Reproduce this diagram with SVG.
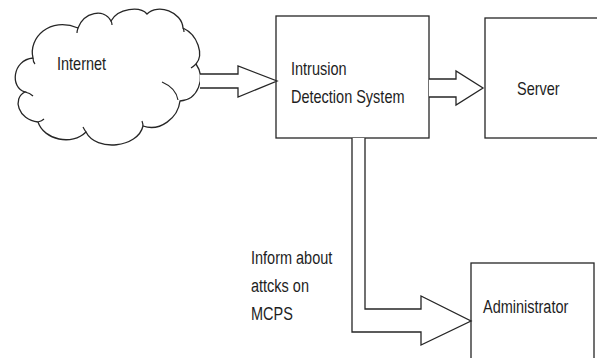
<svg xmlns="http://www.w3.org/2000/svg" width="597" height="358" viewBox="0 0 597 358">
<style>
.ln{fill:#fff;stroke:#262626;stroke-width:1.3;stroke-linejoin:miter}
.hk{fill:none;stroke:#262626;stroke-width:1.2}
.t{font-family:"Liberation Sans",Arial,sans-serif;font-size:14.5px;fill:#1e1e1e}
</style>
<rect width="597" height="358" fill="#fff"/>
<g id="internet">
<path class="ln" d="M25,92 C10,88 12,60 33,58 C28,38 50,16 78,28 C84,12 104,8 111,21 C118,8 140,6 147,14 C158,3 182,12 183,28 C198,35 204,55 196,64 C206,78 198,100 180,101 C178,118 160,132 143,126 C138,148 96,152 86,132 C72,146 44,140 38,122 C18,120 12,98 25,92 Z"/>
<path class="hk" d="M25,92 Q30,93 33,96 M33,58 Q33,62 35,64 M78,28 Q77,31 77,33 M111,21 Q112,23 112,25 M183,28 Q184,30 184,32 M196,64 Q194,66 191,68 M162,82 Q176,88 178,100 M143,126 Q143,124 142,121 M86,132 Q84,129 83,127 M38,122 Q42,121 44,119"/>
<text class="t" transform="translate(57,70) scale(1,1.3)">Internet</text>
</g>
<g id="ids">
<rect class="ln" x="276" y="16" width="153" height="122"/>
<text class="t" transform="translate(291,75) scale(1,1.3)">Intrusion</text>
<text class="t" transform="translate(291,103) scale(1,1.3)">Detection System</text>
</g>
<g id="server">
<rect class="ln" x="485" y="18" width="120" height="120"/>
<text class="t" transform="translate(517,95) scale(1,1.3)">Server</text>
</g>
<g id="administrator">
<rect class="ln" x="471" y="263" width="123" height="110"/>
<text class="t" transform="translate(483,313) scale(1,1.3)">Administrator</text>
</g>
<g id="connectors">
<path class="ln" d="M200,74 H238 V66 L277,81 L238,97 V88 H200"/>
<path class="ln" d="M429,79 H456 V71 L483,88 L456,105 V97 H429"/>
<path class="ln" d="M365,138 V309 H421 V296 L471,321 L421,345 V332 H352 V138"/>
<text class="t" transform="translate(251,264) scale(1,1.3)">Inform about</text>
<text class="t" transform="translate(251,292) scale(1,1.3)">attcks on</text>
<text class="t" transform="translate(251,320) scale(1,1.3)">MCPS</text>
</g>
</svg>
